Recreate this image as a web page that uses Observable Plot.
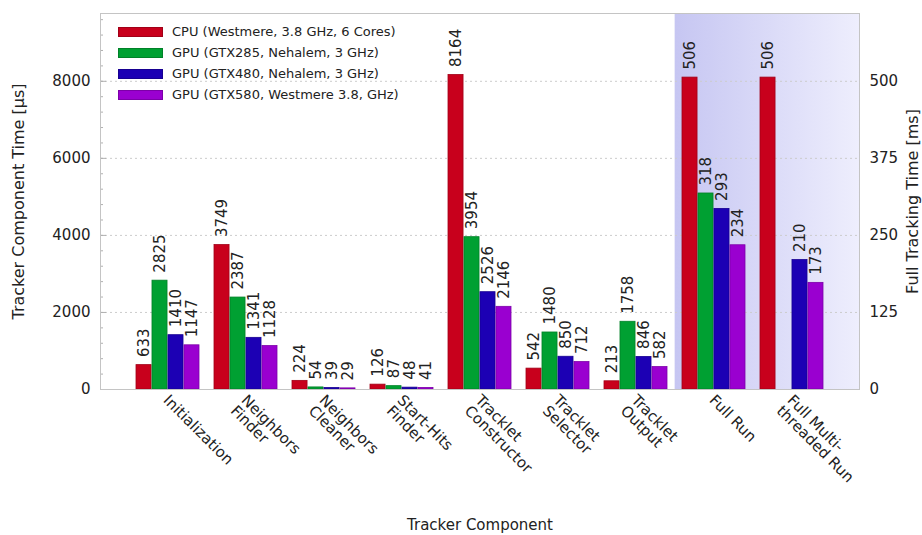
<!DOCTYPE html>
<html>
<head>
<meta charset="utf-8">
<script src="https://cdn.jsdelivr.net/npm/d3@7"></script>
<script src="https://cdn.jsdelivr.net/npm/@observablehq/plot@0.6"></script>
<style>
  body { margin: 0; background: #fff; }
  #wrap { position: relative; width: 922px; height: 535px; font-family: "DejaVu Sans", sans-serif; }
  #legend { position: absolute; left: 118px; top: 21px; font-size: 13px; color: #222; }
  #legend .row { display: flex; align-items: center; height: 21px; }
  #legend .sw { width: 45px; height: 10px; margin-right: 9px; box-sizing: border-box; }
</style>
</head>
<body>
<div id="wrap"></div>
<script>
// ---- data ----
const categories = ["Initialization", "Neighbors Finder", "Neighbors Cleaner", "Start-Hits Finder",
  "Tracklet Constructor", "Tracklet Selector", "Tracklet Output", "Full Run", "Full Multi-threaded Run"];
const tickLabels = ["Initialization", "Neighbors\nFinder", "Neighbors\nCleaner", "Start-Hits\nFinder",
  "Tracklet\nConstructor", "Tracklet\nSelector", "Tracklet\nOutput", "Full Run", "Full Multi-\nthreaded Run"];
const seriesNames = ["CPU (Westmere, 3.8 GHz, 6 Cores)", "GPU (GTX285, Nehalem, 3 GHz)",
  "GPU (GTX480, Nehalem, 3 GHz)", "GPU (GTX580, Westmere 3.8, GHz)"];
const seriesColors = ["#c8001c", "#00a032", "#1c00b4", "#9a00d0"];
// µs for components, ms for the two full-run categories
const cpu    = [633, 3749, 224, 126, 8164, 542, 213, 506, 506];
const gtx285 = [2825, 2387, 54, 87, 3954, 1480, 1758, 318, null];
const gtx480 = [1410, 1341, 39, 48, 2526, 850, 846, 293, 210];
const gtx580 = [1147, 1128, 29, 41, 2146, 712, 582, 234, 173];
const leftTicks = [0, 2000, 4000, 6000, 8000];
const rightTicks = [0, 125, 250, 375, 500];
const msCategories = ["Full Run", "Full Multi-threaded Run"];
const yMax = 9760;

// ---- layout ----
const W = 922, H = 535, mL = 100, mR = 63, mT = 13, mB = 146;
const padInner = 0.187, padOuter = 0.419;
const plotW = W - mL - mR;
const step = plotW / (categories.length - padInner + 2 * padOuter);
const band = step * (1 - padInner);
const barW = band / 4;
const msFactor = leftTicks[leftTicks.length - 1] / rightTicks[rightTicks.length - 1];

const seriesValues = [cpu, gtx285, gtx480, gtx580];
const rows = [];
seriesValues.forEach((vals, si) => vals.forEach((v, ci) => {
  if (v == null) return;
  const c = categories[ci];
  rows.push({category: c, series: si, label: v, value: msCategories.includes(c) ? v * msFactor : v});
}));
const minorTicks = d3.range(0, yMax, 400);

// shaded background behind the full-run groups
function shade(index, scales, values, dims) {
  const ns = "http://www.w3.org/2000/svg";
  const g = document.createElementNS(ns, "g");
  const defs = document.createElementNS(ns, "defs");
  const grad = document.createElementNS(ns, "linearGradient");
  grad.setAttribute("id", "shadeGrad");
  grad.setAttribute("x1", "0"); grad.setAttribute("x2", "1");
  grad.setAttribute("y1", "0"); grad.setAttribute("y2", "0");
  [["0", "#c6c6f2"], ["1", "#eeeefd"]].forEach(([o, c]) => {
    const s = document.createElementNS(ns, "stop");
    s.setAttribute("offset", o); s.setAttribute("stop-color", c);
    grad.appendChild(s);
  });
  defs.appendChild(grad);
  g.appendChild(defs);
  const x0 = scales.x(msCategories[0]) - step * padInner / 2;
  const x1 = dims.width - dims.marginRight;
  const r = document.createElementNS(ns, "rect");
  r.setAttribute("x", x0);
  r.setAttribute("y", dims.marginTop);
  r.setAttribute("width", x1 - x0);
  r.setAttribute("height", dims.height - dims.marginTop - dims.marginBottom);
  r.setAttribute("fill", "url(#shadeGrad)");
  g.appendChild(r);
  return g;
}

const barMarks = seriesColors.map((col, i) => Plot.barY(rows.filter(d => d.series === i), {
  x: "category", y: "value", fill: col,
  stroke: d3.color(col).darker(0.6).formatHex(), strokeWidth: 0.8,
  insetLeft: i * barW, insetRight: (3 - i) * barW
}));
const textMarks = seriesColors.map((col, i) => Plot.text(rows.filter(d => d.series === i), {
  x: "category", y: "value", text: d => String(d.label),
  rotate: -90, textAnchor: "start", lineAnchor: "middle",
  dx: -band / 2 + (i + 0.5) * barW, dy: -8,
  fontSize: 15, fill: "#222"
}));

const chart = Plot.plot({
  width: W, height: H,
  marginLeft: mL, marginRight: mR, marginTop: mT, marginBottom: mB,
  style: {fontFamily: "DejaVu Sans, sans-serif", fontSize: "15px", color: "#222", background: "#fff"},
  x: {domain: categories, paddingInner: padInner, paddingOuter: padOuter, align: 0.5},
  y: {domain: [0, yMax]},
  marks: [
    shade,
    Plot.gridY(leftTicks.slice(1), {stroke: "#cccccc", strokeOpacity: 1, strokeDasharray: "2,3"}),
    Plot.ruleY(minorTicks, {stroke: "#b0b0b0", insetRight: plotW - 3}),
    Plot.ruleY(leftTicks, {stroke: "#b0b0b0", insetRight: plotW - 6}),
    ...barMarks,
    ...textMarks,
    Plot.axisY({ticks: leftTicks, tickSize: 0, tickPadding: 10, tickFormat: d => String(d), label: null, fontSize: 15}),
    Plot.axisY({anchor: "right", ticks: rightTicks.map(v => v * msFactor), tickSize: 0, tickPadding: 10,
      tickFormat: d => String(d / msFactor), label: null, fontSize: 15}),
    Plot.axisX({tickSize: 0, tickPadding: 0, tickRotate: 45, fontSize: 15, label: null,
      textAnchor: "start", lineAnchor: "top", dx: 2, dy: 4,
      tickFormat: d => tickLabels[categories.indexOf(d)]}),
    Plot.text(["Tracker Component Time [µs]"], {frameAnchor: "left", rotate: -90, dx: -82, fontSize: 16,
      fill: "#222", textAnchor: "middle", lineAnchor: "middle"}),
    Plot.text(["Full Tracking Time [ms]"], {frameAnchor: "right", rotate: -90, dx: 53, fontSize: 16,
      fill: "#222", textAnchor: "middle", lineAnchor: "middle"}),
    Plot.text(["Tracker Component"], {frameAnchor: "bottom", dy: 136, fontSize: 15, fill: "#222",
      textAnchor: "middle", lineAnchor: "middle"}),
    Plot.frame({stroke: "#c4c4c4"})
  ]
});

const wrap = document.getElementById("wrap");
wrap.appendChild(chart);
const legend = document.createElement("div");
legend.id = "legend";
seriesNames.forEach((name, i) => {
  const row = document.createElement("div");
  row.className = "row";
  const sw = document.createElement("div");
  sw.className = "sw";
  sw.style.background = seriesColors[i];
  sw.style.border = "1px solid " + d3.color(seriesColors[i]).darker(0.6).formatHex();
  const t = document.createElement("span");
  t.textContent = name;
  row.appendChild(sw); row.appendChild(t);
  legend.appendChild(row);
});
wrap.appendChild(legend);
</script>
</body>
</html>
